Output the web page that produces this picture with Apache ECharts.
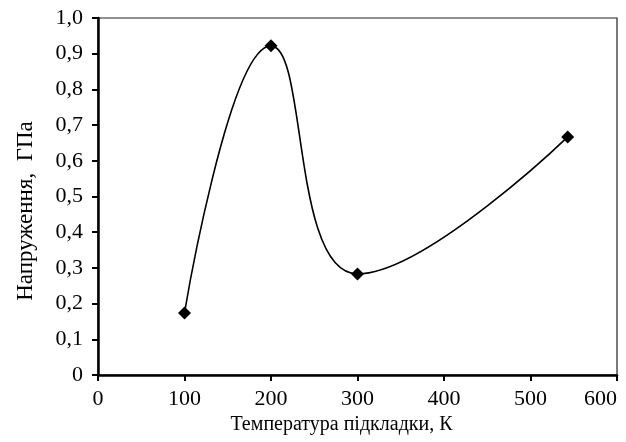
<!DOCTYPE html>
<html><head><meta charset="utf-8">
<script src="https://cdn.jsdelivr.net/npm/echarts@6/dist/echarts.min.js"></script>
<style>html,body{margin:0;padding:0;background:#fff}#c{width:626px;height:442px}</style>
</head><body><div id="c"></div>
<script>
const temperatures = [100, 200, 300, 543];
const stress = [0.174, 0.922, 0.283, 0.667];
const xTitle = 'Температура підкладки, К';
const yTitle = 'Напруження,  ГПа';

const pts = temperatures.map((t, i) => [t, stress[i]]);
const font = 'Liberation Serif';
const chart = echarts.init(document.getElementById('c'));
chart.setOption({
  animation: false,
  backgroundColor: '#fff',
  grid: { left: 98, right: 9, top: 18, bottom: 67, containLabel: false, outerBoundsMode: 'none',
    show: true, borderColor: '#222', borderWidth: 1.2 },
  xAxis: {
    type: 'value', min: 0, max: 600, interval: 100,
    name: xTitle, nameLocation: 'middle', nameGap: 38,
    nameTextStyle: { fontFamily: font, fontSize: 20, color: '#000', padding: [0, 32, 0, 0] },
    axisLine: { show: true, onZero: false, lineStyle: { color: '#000', width: 2.5 } },
    axisTick: { show: true, length: 6, lineStyle: { color: '#000', width: 2 } },
    axisLabel: { fontFamily: font, fontSize: 22, color: '#000', margin: 13, alignMaxLabel: 'right' },
    splitLine: { show: false }
  },
  yAxis: {
    type: 'value', min: 0, max: 1, interval: 0.1,
    name: yTitle, nameLocation: 'middle', nameGap: 61, nameRotate: 90,
    nameTextStyle: { fontFamily: font, fontSize: 23, color: '#000', padding: [0, 29, 0, 0] },
    axisLine: { show: true, lineStyle: { color: '#000', width: 2.5 } },
    axisTick: { show: true, length: 6, lineStyle: { color: '#000', width: 2 } },
    axisLabel: { fontFamily: font, fontSize: 22, color: '#000', margin: 15,
      formatter: v => v === 0 ? '0' : v.toFixed(1).replace('.', ',') },
    splitLine: { show: false }
  },
  series: [{
    type: 'line', data: pts, smooth: 0.45, symbol: 'diamond', symbolSize: 13,
    lineStyle: { color: '#000', width: 1.6 },
    itemStyle: { color: '#000' }
  }]
});
</script></body></html>
